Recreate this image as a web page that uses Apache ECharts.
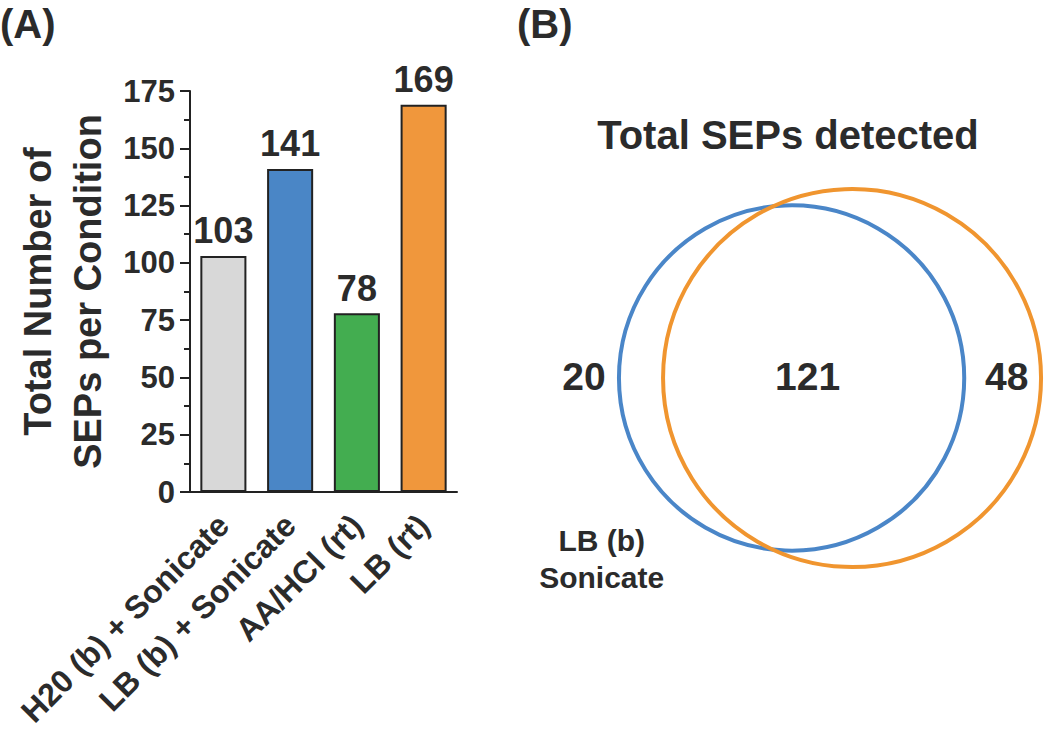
<!DOCTYPE html>
<html>
<head>
<meta charset="utf-8">
<script src="https://cdn.jsdelivr.net/npm/echarts@6/dist/echarts.min.js"></script>
<style>html,body{margin:0;padding:0;background:#fff;}#c{width:1050px;height:734px;}</style>
</head>
<body>
<div id="c"></div>
<script>
// ---- Panel A data ----
const categories = ['H20 (b) + Sonicate', 'LB (b) + Sonicate', 'AA/HCl (rt)', 'LB (rt)'];
const seps = [103, 141, 78, 169];
const barColors = ['#d8d8d8', '#4a86c6', '#43ad50', '#f0973c'];

// ---- Panel B (Venn) data ----
const vennSetNames = ['LB (b)\nSonicate', 'LB (rt)'];
const vennSetSizes = [141, 169];
const vennOverlap = 121;
const vennRegionCounts = [20, 121, 48]; // only first, both, only second
const vennColors = ['#4a86c8', '#f0952f'];

const FONT = '"Liberation Sans", Arial, Helvetica, sans-serif';
const INK = '#2b2b2b';
const AX = '#222';

// ---- Venn layout (area-proportional) ----
const R2 = 189;                           // radius unit of the larger set
const k = R2 / Math.sqrt(vennSetSizes[1]);
const r1 = k * Math.sqrt(vennSetSizes[0]);
const r2 = k * Math.sqrt(vennSetSizes[1]);
function lens(d) {
  if (d >= r1 + r2) return 0;
  if (d <= Math.abs(r1 - r2)) return Math.PI * Math.min(r1, r2) ** 2;
  const a = r1 * r1 * Math.acos((d * d + r1 * r1 - r2 * r2) / (2 * d * r1));
  const b = r2 * r2 * Math.acos((d * d + r2 * r2 - r1 * r1) / (2 * d * r2));
  const c = 0.5 * Math.sqrt((-d + r1 + r2) * (d + r1 - r2) * (d - r1 + r2) * (d + r1 + r2));
  return a + b - c;
}
const target = Math.PI * k * k * vennOverlap;
let lo = Math.abs(r1 - r2), hi = r1 + r2;
for (let i = 0; i < 60; i++) { const m = (lo + hi) / 2; if (lens(m) > target) lo = m; else hi = m; }
const dist = (lo + hi) / 2;
const midX = 310, cY = 278;
const c1 = midX - (dist + r2 - r1) / 2;
const c2 = c1 + dist;
const circles = [[c1, cY, r1, 0], [c2, cY, r2, 1]];
const regionLabels = [
  [c1 - r1 - 35, cY - 2, vennRegionCounts[0]],
  [((c2 - r2) + (c1 + r1)) / 2 - 6, cY - 2, vennRegionCounts[1]],
  [((c1 + r1) + (c2 + r2)) / 2 + 4, cY - 2, vennRegionCounts[2]]
];
const setLabels = [[c1 - 1.1 * r1, cY + 1.05 * r1, vennSetNames[0]]];

const chart = echarts.init(document.getElementById('c'), null, { renderer: 'svg' });
const option = {
  animation: false,
  backgroundColor: '#fff',
  graphic: [
    { type: 'text', x: 0, y: 24, style: { text: '(A)', font: 'bold 40px ' + FONT, fill: INK, textVerticalAlign: 'middle' } },
    { type: 'text', x: 517, y: 24, style: { text: '(B)', font: 'bold 40px ' + FONT, fill: INK, textVerticalAlign: 'middle' } },
    { type: 'text', x: 788, y: 135, style: { text: 'Total SEPs detected', font: 'bold 40px ' + FONT, fill: INK, textAlign: 'center', textVerticalAlign: 'middle' } }
  ],
  grid: [
    { left: 190, top: 91, width: 267, height: 401 },
    { left: 520, top: 100, width: 530, height: 530 }
  ],
  xAxis: [
    {
      type: 'category', gridIndex: 0, data: categories,
      axisLine: { lineStyle: { color: AX, width: 2 } },
      axisTick: { alignWithLabel: true, length: 10, lineStyle: { color: AX, width: 2 } },
      axisLabel: { interval: 0, rotate: 45, margin: 28, fontSize: 32, fontWeight: 'bold', color: INK, fontFamily: FONT }
    },
    { type: 'value', gridIndex: 1, min: 0, max: 530, show: false }
  ],
  yAxis: [
    {
      type: 'value', gridIndex: 0, min: 0, max: 175, interval: 25,
      name: 'Total Number of\nSEPs per Condition', nameLocation: 'middle', nameGap: 77,
      nameTextStyle: { fontSize: 38, fontWeight: 'bold', lineHeight: 50, color: INK, fontFamily: FONT },
      axisLine: { show: true, lineStyle: { color: AX, width: 2 } },
      axisTick: { show: true, length: 10, lineStyle: { color: AX, width: 2 } },
      minorTick: { show: true, splitNumber: 2, length: 6, lineStyle: { color: AX, width: 2 } },
      splitLine: { show: false },
      axisLabel: { margin: 15, fontSize: 31, fontWeight: 'bold', color: INK, fontFamily: FONT }
    },
    { type: 'value', gridIndex: 1, min: 0, max: 530, inverse: true, show: false }
  ],
  series: [
    {
      type: 'bar', xAxisIndex: 0, yAxisIndex: 0,
      barCategoryGap: '31%',
      data: seps.map((v, i) => ({ value: v, itemStyle: { color: barColors[i] } })),
      itemStyle: { borderColor: AX, borderWidth: 2 },
      label: { show: true, position: 'top', distance: 7, fontSize: 36, fontWeight: 'bold', color: INK, fontFamily: FONT }
    },
    {
      type: 'custom', xAxisIndex: 1, yAxisIndex: 1, clip: false,
      data: circles,
      renderItem: function (params, api) {
        const p = api.coord([api.value(0), api.value(1)]);
        const r = api.size([api.value(2), 0])[0];
        return {
          type: 'circle',
          shape: { cx: p[0], cy: p[1], r: r },
          style: { fill: 'none', stroke: vennColors[api.value(3)], lineWidth: 4 }
        };
      }
    },
    {
      type: 'scatter', xAxisIndex: 1, yAxisIndex: 1, symbolSize: 0,
      itemStyle: { opacity: 1 },
      data: regionLabels,
      label: { show: true, position: 'inside', formatter: p => String(p.value[2]), fontSize: 39, fontWeight: 'bold', color: INK, fontFamily: FONT }
    },
    {
      type: 'scatter', xAxisIndex: 1, yAxisIndex: 1, symbolSize: 0,
      itemStyle: { opacity: 1 },
      data: setLabels,
      label: { show: true, position: 'inside', formatter: p => p.value[2], fontSize: 30, lineHeight: 37, fontWeight: 'bold', color: INK, fontFamily: FONT, align: 'center' }
    }
  ]
};
chart.setOption(option);
</script>
</body>
</html>
